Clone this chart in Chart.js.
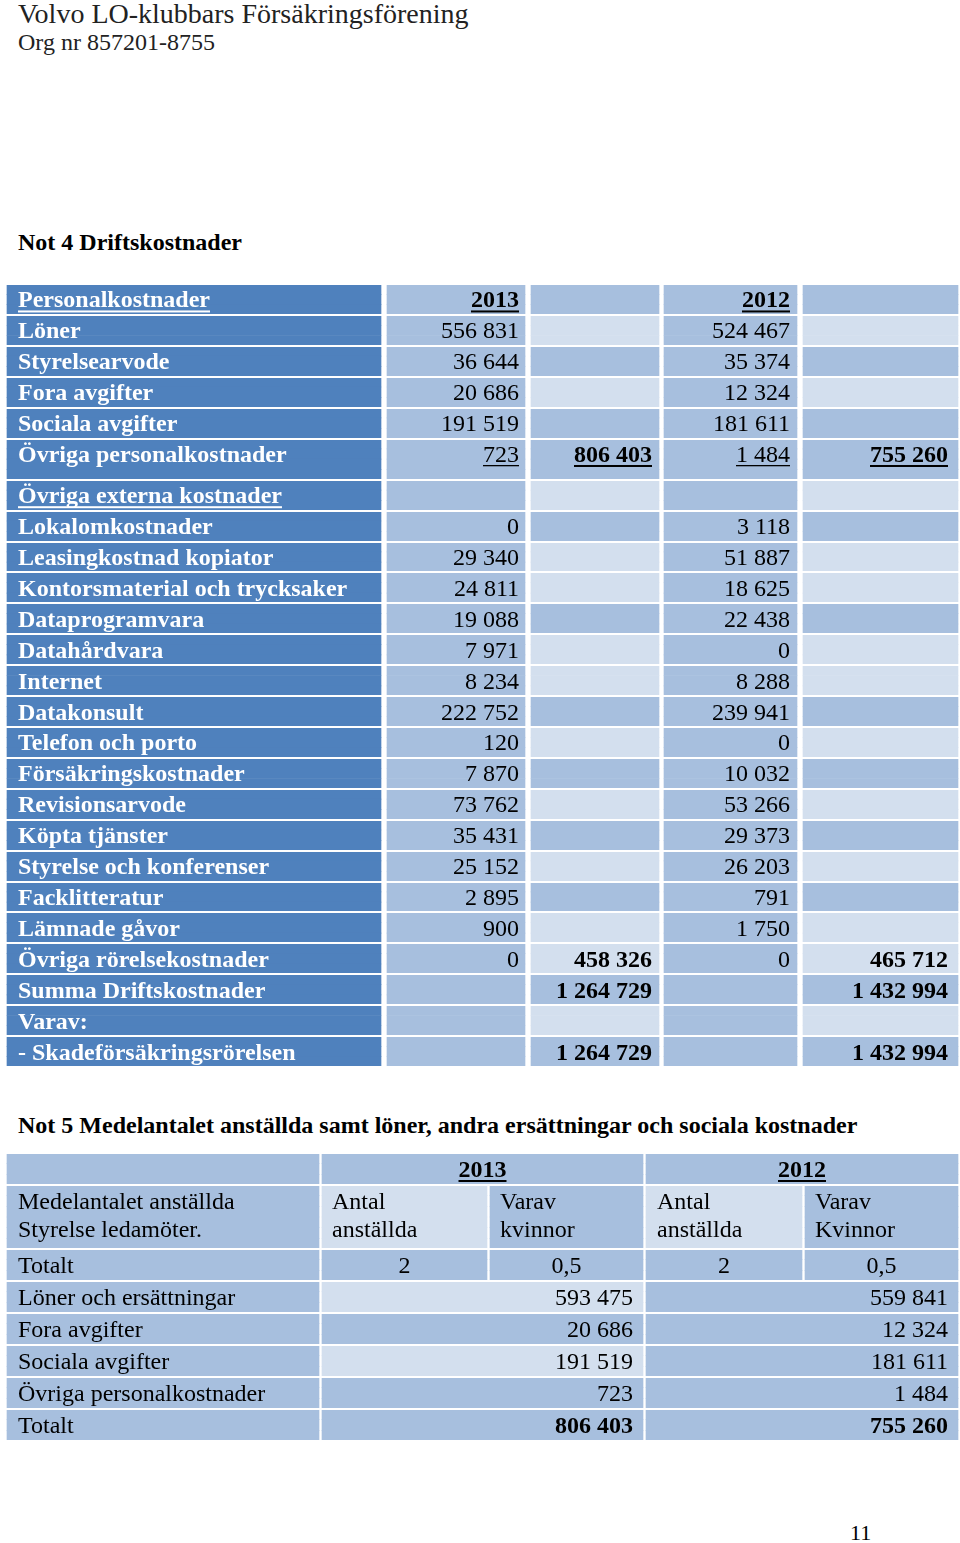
<!DOCTYPE html>
<html lang="sv">
<head>
<meta charset="utf-8">
<title>Not 4 Driftskostnader</title>
<script src="https://cdn.jsdelivr.net/npm/chart.js@4.4.1/dist/chart.umd.min.js"></script>
<style>
  html, body { margin: 0; padding: 0; background: #fff; }
  body { width: 960px; height: 1543px; position: relative; overflow: hidden; font-family: 'Liberation Serif', 'Times New Roman', serif; color: #000; }
  .txt { position: absolute; left: 18px; white-space: nowrap; line-height: 1; }
  #title { top: 0; font-size: 28px; color: #222; }
  #org { top: 30px; font-size: 24px; color: #222; }
  .note { font-size: 24px; font-weight: bold; }
  #note4 { top: 230px; }
  #note5 { top: 1113px; }
  #page { left: 850px; top: 1522px; font-size: 22px; }
  canvas { position: absolute; left: 0; }
  #table1 { top: 284px; }
  #table2 { top: 1153px; }
</style>
</head>
<body>
<div class="txt" id="title">Volvo LO-klubbars Försäkringsförening</div>
<div class="txt" id="org">Org nr 857201-8755</div>
<div class="txt note" id="note4">Not 4 Driftskostnader</div>
<div class="txt note" id="note5">Not 5 Medelantalet anställda samt löner, andra ersättningar och sociala kostnader</div>
<div class="txt" id="page">11</div>
<canvas id="table1" width="960" height="783"></canvas>
<canvas id="table2" width="960" height="288"></canvas>
<script>
// Not 4
const years = ['2013', '2012'];
const rows1 = [
  'Personalkostnader', 'Löner', 'Styrelsearvode', 'Fora avgifter', 'Sociala avgifter',
  'Övriga personalkostnader', 'Övriga externa kostnader', 'Lokalomkostnader',
  'Leasingkostnad kopiator', 'Kontorsmaterial och trycksaker', 'Dataprogramvara',
  'Datahårdvara', 'Internet', 'Datakonsult', 'Telefon och porto', 'Försäkringskostnader',
  'Revisionsarvode', 'Köpta tjänster', 'Styrelse och konferenser', 'Facklitteratur',
  'Lämnade gåvor', 'Övriga rörelsekostnader', 'Summa Driftskostnader', 'Varav:',
  '- Skadeförsäkringsrörelsen',
];
const cost2013 = [null, 556831, 36644, 20686, 191519, 723, null, 0, 29340, 24811, 19088, 7971, 8234,
  222752, 120, 7870, 73762, 35431, 25152, 2895, 900, 0, null, null, null];
const sum2013 = [null, null, null, null, null, 806403, null, null, null, null, null, null, null,
  null, null, null, null, null, null, null, null, 458326, 1264729, null, 1264729];
const cost2012 = [null, 524467, 35374, 12324, 181611, 1484, null, 3118, 51887, 18625, 22438, 0, 8288,
  239941, 0, 10032, 53266, 29373, 26203, 791, 1750, 0, null, null, null];
const sum2012 = [null, null, null, null, null, 755260, null, null, null, null, null, null, null,
  null, null, null, null, null, null, null, null, 465712, 1432994, null, 1432994];

// Not 5
const head2Col0 = ['Medelantalet anställda', 'Styrelse ledamöter.'];
const head2Cols = [['Antal', 'anställda'], ['Varav', 'kvinnor'], ['Antal', 'anställda'], ['Varav', 'Kvinnor']];
const rows2 = ['Totalt', 'Löner och ersättningar', 'Fora avgifter', 'Sociala avgifter', 'Övriga personalkostnader', 'Totalt'];
const staff2013 = [2, 0.5];
const staff2012 = [2, 0.5];
const pay2013 = [593475, 20686, 191519, 723, 806403];
const pay2012 = [559841, 12324, 181611, 1484, 755260];

// layout / styles
const shadeColors = { d: '#4f81bd', m: '#a7bfde', l: '#d3dfee' };
const colEdges1 = [[7, 381], [387, 525], [531, 659], [664, 797], [803, 958]];
const colEdges2 = [[7, 319], [322, 487], [490, 643], [646, 802], [805, 958]];
const band1 = '0101001011011010101011010';
const rowSpan1 = rows1.map((_, i) => (i === 5 ? 4 : 3));
const shade2 = ['mmmmm', 'mlmlm', 'mmmmm', 'mlmmm', 'mmmmm', 'mlmmm', 'mmmmm', 'mmmmm'];
const merged2 = [1, 0, 0, 1, 1, 1, 1, 1];
const rowSpan2 = [3, 6, 3, 3, 3, 3, 3, 3];
const underlinedLabels1 = [0, 6];
const underlinedValues1 = [5];
const pads1 = { left: [11, 8, 8, 8, 8], right: [8, 6, 7, 7, 10] };
const pads2 = { left: [11, 10, 10, 11, 10], right: [10, 10, 10, 10, 10] };
const lineGap = 28;

const fmt = (n) => String(n).replace('.', ',').replace(/\B(?=(\d{3})+(?!\d))/g, ' ');

const cell1 = (row, col) => {
  if (col === 0) {
    return { text: rows1[row], bold: true, color: '#fff', align: 'left', underline: underlinedLabels1.includes(row) };
  }
  if (row === 0 && (col === 1 || col === 3)) {
    return { text: years[col === 1 ? 0 : 1], bold: true, underline: true, align: 'right' };
  }
  const value = [null, cost2013, sum2013, cost2012, sum2012][col][row];
  if (value === null) return null;
  return { text: fmt(value), bold: col === 2 || col === 4, underline: underlinedValues1.includes(row), align: 'right' };
};

const cell2 = (row, col) => {
  if (row === 0) {
    if (col === 1 || col === 3) return { text: years[col === 1 ? 0 : 1], bold: true, underline: true, align: 'center' };
    return null;
  }
  if (row === 1) {
    return { text: col === 0 ? head2Col0 : head2Cols[col - 1], align: 'left' };
  }
  if (col === 0) return { text: rows2[row - 2], align: 'left' };
  if (row === 2) {
    const staff = [null, staff2013[0], staff2013[1], staff2012[0], staff2012[1]][col];
    return { text: fmt(staff), align: 'center' };
  }
  if (col === 2 || col === 4) return null;
  const pay = col === 1 ? pay2013[row - 3] : pay2012[row - 3];
  return { text: fmt(pay), align: 'right', bold: row === 7 };
};

const span1 = (row, col) => colEdges1[col].slice();
const span2 = (row, col) => {
  if (merged2[row] && (col === 2 || col === 4)) return null;
  if (merged2[row] && (col === 1 || col === 3)) return [colEdges2[col][0], colEdges2[col + 1][1]];
  return colEdges2[col].slice();
};

const cellTextPlugin = (table) => ({
  id: 'cellText',
  afterDatasetsDraw(chart) {
    const ctx = chart.ctx;
    table.rowStart.forEach((start, row) => {
      for (let col = 0; col < 5; col++) {
        const cell = table.cellOf(row, col);
        if (!cell || table.spanOf(row, col) === null) continue;
        const bar = chart.getDatasetMeta(col).data[start + 1];
        const { x, y, base } = bar.getProps(['x', 'y', 'base'], true);
        const left = Math.min(x, base);
        const right = Math.max(x, base);
        const lines = Array.isArray(cell.text) ? cell.text : [cell.text];
        ctx.save();
        ctx.font = (cell.bold ? 'bold ' : '') + '24px "Liberation Serif", "Times New Roman", serif';
        ctx.fillStyle = cell.color || '#000';
        ctx.textBaseline = 'alphabetic';
        lines.forEach((line, k) => {
          const w = ctx.measureText(line).width;
          let tx = left + table.pads.left[col];
          if (cell.align === 'right') tx = right - table.pads.right[col] - w;
          if (cell.align === 'center') tx = (left + right - w) / 2;
          const ty = y + 8 + k * lineGap;
          ctx.fillText(line, tx, ty);
          if (cell.underline) ctx.fillRect(tx, ty + 3, w, cell.bold ? 2 : 1.3);
        });
        ctx.restore();
      }
    });
  },
});

const buildTable = (canvasId, rowSpans, spanOf, shadeOf, cellOf, pads) => {
  // each row covers a few equal category slots, so taller rows keep their height
  const slotRow = [];
  const rowStart = [];
  rowSpans.forEach((n, row) => {
    rowStart.push(slotRow.length);
    for (let k = 0; k < n; k++) slotRow.push(row);
  });
  const datasets = [0, 1, 2, 3, 4].map((col) => ({
    data: slotRow.map((row) => spanOf(row, col)),
    backgroundColor: (ctx) => shadeColors[shadeOf(slotRow[ctx.dataIndex], col)],
    borderWidth: 0,
    grouped: false,
    categoryPercentage: 1,
    barPercentage: 1,
  }));
  const insideRow = (i) => i > 0 && i < slotRow.length && slotRow[i] === slotRow[i - 1];
  return new Chart(canvasId, {
    type: 'bar',
    data: { labels: slotRow.map((row, i) => 'r' + row + 's' + i), datasets },
    options: {
      indexAxis: 'y',
      responsive: false,
      animation: false,
      events: [],
      layout: { padding: 0 },
      plugins: { legend: { display: false }, tooltip: { enabled: false } },
      scales: {
        x: { type: 'linear', min: 0, max: 960, display: false },
        y: {
          type: 'category',
          offset: true,
          ticks: { display: false },
          border: { display: false },
          grid: {
            offset: true,
            z: 1,
            drawTicks: false,
            lineWidth: 2,
            color: (ctx) => (insideRow(ctx.index) ? 'rgba(0,0,0,0)' : '#fff'),
          },
          afterFit: (axis) => { axis.width = 0; },
        },
      },
    },
    plugins: [cellTextPlugin({ rowStart, spanOf, cellOf, pads })],
  });
};

buildTable(
  'table1',
  rowSpan1,
  span1,
  (row, col) => (col === 0 ? 'd' : (col % 2 === 0 && band1[row] === '1' ? 'l' : 'm')),
  cell1,
  pads1
);

buildTable(
  'table2',
  rowSpan2,
  span2,
  (row, col) => shade2[row][col],
  cell2,
  pads2
);
</script>
</body>
</html>
